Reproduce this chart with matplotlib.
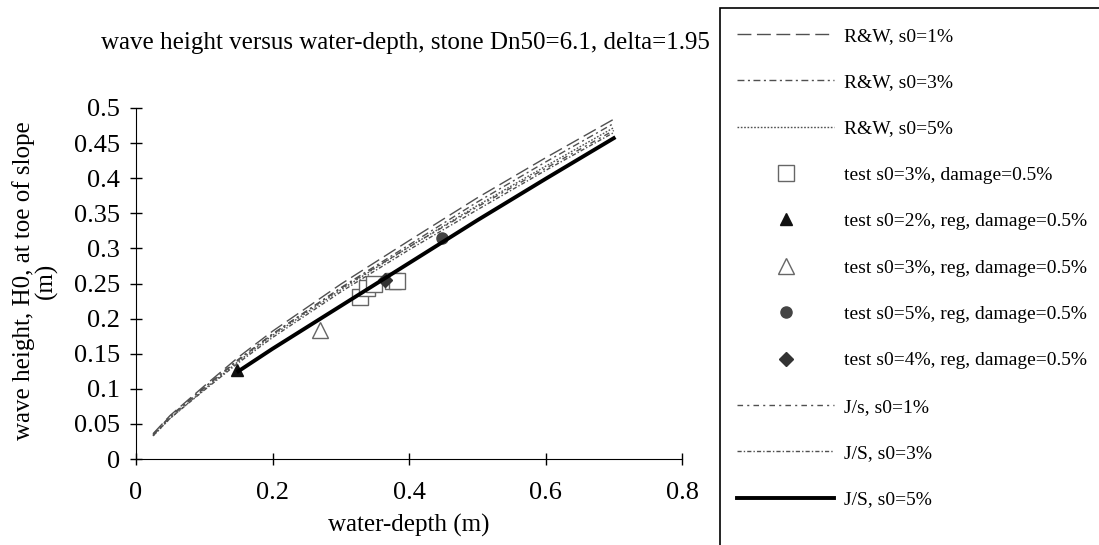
import numpy as np
import matplotlib
matplotlib.use("Agg")
import matplotlib.pyplot as plt
from matplotlib.patches import Rectangle

plt.rcParams['font.family'] = ['Liberation Serif', 'DejaVu Serif']

# curve data
x_curve = [0.025, 0.05, 0.1, 0.15, 0.2, 0.3, 0.4, 0.5, 0.6, 0.7]
rw_1 = [0.036, 0.062, 0.104, 0.145, 0.182, 0.249, 0.311, 0.372, 0.429, 0.484]
rw_3 = [0.034, 0.060, 0.101, 0.141, 0.178, 0.244, 0.305, 0.366, 0.423, 0.478]
rw_5 = [0.033, 0.058, 0.099, 0.139, 0.176, 0.241, 0.302, 0.361, 0.417, 0.472]
js_1 = [0.035, 0.061, 0.102, 0.142, 0.178, 0.243, 0.302, 0.359, 0.414, 0.468]
js_3 = [0.033, 0.058, 0.098, 0.137, 0.173, 0.238, 0.298, 0.355, 0.411, 0.465]
x_js5 = [0.15, 0.2, 0.3, 0.4, 0.5, 0.6, 0.7]
js_5 = [0.125, 0.157, 0.218, 0.279, 0.340, 0.399, 0.457]

# test points
sq_x = [0.328, 0.338, 0.349, 0.376, 0.382]
sq_y = [0.231, 0.243, 0.250, 0.254, 0.254]
tri2_x, tri2_y = [0.148], [0.127]
tri3_x, tri3_y = [0.270], [0.184]
circ_x, circ_y = [0.448], [0.315]
dia_x, dia_y = [0.365], [0.255]

fig = plt.figure(figsize=(10.99, 5.45), dpi=100)
ax = fig.add_axes([136/1099, 1-459/545, 546/1099, 351/545])

gray = '#505050'
h = []
h += ax.plot(x_curve, rw_1, color=gray, lw=1, ls=(0, (10, 4)), label='R&W, s0=1%')
h += ax.plot(x_curve, rw_3, color=gray, lw=1, ls=(0, (5, 2.5, 1.5, 2.5)), label='R&W, s0=3%')
h += ax.plot(x_curve, rw_5, color=gray, lw=1, ls=(0, (1.2, 1.2)), label='R&W, s0=5%')
h += ax.plot(sq_x, sq_y, 's', ms=11, mfc='white', mec='#666666', mew=1, ls='none',
             label='test s0=3%, damage=0.5%')
h += ax.plot(tri2_x, tri2_y, '^', ms=8, color='#111111', ls='none',
             label='test s0=2%, reg, damage=0.5%')
h += ax.plot(tri3_x, tri3_y, '^', ms=11, mfc='white', mec='#666666', mew=1, ls='none',
             label='test s0=3%, reg, damage=0.5%')
h += ax.plot(circ_x, circ_y, 'o', ms=8, color='#444444', ls='none',
             label='test s0=5%, reg, damage=0.5%')
h += ax.plot(dia_x, dia_y, 'D', ms=7, color='#333333', ls='none',
             label='test s0=4%, reg, damage=0.5%')
h += ax.plot(x_curve, js_1, color=gray, lw=1, ls=(0, (4, 3, 1.5, 3)), label='J/s, s0=1%')
h += ax.plot(x_curve, js_3, color=gray, lw=1, ls=(0, (3, 1.5, 1, 1.5)), label='J/S, s0=3%')
h += ax.plot(x_js5, js_5, color='black', lw=2.8, label='J/S, s0=5%')

ax.set_xlim(0, 0.8)
ax.set_ylim(0, 0.5)
ax.set_xticks([0, 0.2, 0.4, 0.6, 0.8])
ax.set_xticklabels(['0', '0.2', '0.4', '0.6', '0.8'])
ax.set_yticks(np.arange(0, 0.51, 0.05))
ax.set_yticklabels(['0', '0.05', '0.1', '0.15', '0.2', '0.25', '0.3', '0.35', '0.4', '0.45', '0.5'])
ax.spines['top'].set_visible(False)
ax.spines['right'].set_visible(False)
ax.tick_params(axis='both', direction='inout', length=9, width=1, labelsize=19)
ax.tick_params(axis='x', pad=12)
ax.tick_params(axis='y', pad=7)

fig.text(405/1099, 1-43/545, 'wave height versus water-depth, stone Dn50=6.1, delta=1.95',
         ha='center', va='center', fontsize=18)
fig.text(409/1099, 1-525/545, 'water-depth (m)', ha='center', va='center', fontsize=18)
fig.text(35/1099, 1-281/545, 'wave height, H0, at toe of slope\n(m)', ha='center', va='center',
         rotation=90, fontsize=18, linespacing=0.95)

# legend box runs off the figure edge
fig.patches.append(Rectangle((720/1099, -0.05), 0.5, 1-8/545+0.05, transform=fig.transFigure,
                             fill=False, edgecolor='black', lw=1.2))
fig.legend(handles=h, loc='upper left', bbox_to_anchor=(737/1099, 1-27/545), frameon=False,
           fontsize=14, handlelength=5.0, handletextpad=0.5, labelspacing=1.48, borderaxespad=0,
           borderpad=0)

fig.savefig('out.png', dpi=100)
